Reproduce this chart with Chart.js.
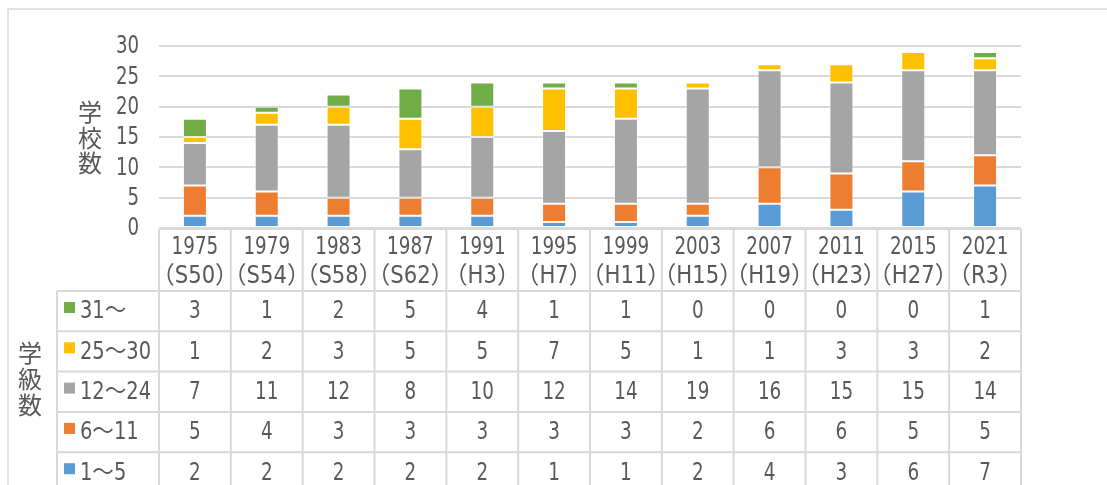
<!DOCTYPE html>
<html>
<head>
<meta charset="utf-8">
<script src="https://cdn.jsdelivr.net/npm/chart.js@4/dist/chart.umd.min.js"></script>
<style>
  html, body { margin: 0; padding: 0; background: #fff; }
  #wrap { width: 1107px; height: 485px; }
</style>
</head>
<body>
<div id="wrap"><canvas id="myChart"></canvas></div>
<script>
// data
const years = ['1975', '1979', '1983', '1987', '1991', '1995', '1999', '2003', '2007', '2011', '2015', '2021'];
const eras = ['（S50）', '（S54）', '（S58）', '（S62）', '（H3）', '（H7）', '（H11）', '（H15）', '（H19）', '（H23）', '（H27）', '（R3）'];
const seriesNames = ['1～5', '6～11', '12～24', '25～30', '31～'];
const s1to5 = [2, 2, 2, 2, 2, 1, 1, 2, 4, 3, 6, 7];
const s6to11 = [5, 4, 3, 3, 3, 3, 3, 2, 6, 6, 5, 5];
const s12to24 = [7, 11, 12, 8, 10, 12, 14, 19, 16, 15, 15, 14];
const s25to30 = [1, 2, 3, 5, 5, 7, 5, 1, 1, 3, 3, 2];
const s31 = [3, 1, 2, 5, 4, 1, 1, 0, 0, 0, 0, 1];
const yTicks = [0, 5, 10, 15, 20, 25, 30];

const colors = ['#5B9BD5', '#ED7D31', '#A5A5A5', '#FFC000', '#70AD47'];
const allSeries = [s1to5, s6to11, s12to24, s25to30, s31];
const textColor = '#595959';
const lineColor = '#d9d9d9';
const fontFam = '"DejaVu Sans Condensed", "Noto Sans CJK JP", sans-serif';

// text squeezed horizontally, the original uses a narrow font
function drawText(ctx, text, x, y, align, sx) {
    ctx.save();
    ctx.translate(x, y);
    ctx.scale(sx, 1);
    ctx.textAlign = align;
    ctx.textBaseline = 'middle';
    ctx.fillText(text, 0, 0);
    ctx.restore();
}

function drawVertical(ctx, text, x, y0, step, size) {
    ctx.font = size + 'px "Noto Sans CJK JP"';
    for (let i = 0; i < text.length; i++)
        drawText(ctx, text[i], x, y0 + i * step, 'center', 1);
}

const tablePlugin = {
    id: 'tablePlugin',
    beforeDraw(chart) {
        const ctx = chart.ctx;
        ctx.save();
        ctx.fillStyle = '#fff';
        ctx.fillRect(0, 0, chart.width, chart.height);
        ctx.strokeStyle = lineColor;
        ctx.lineWidth = 1.5;
        ctx.beginPath();
        ctx.moveTo(8, chart.height);
        ctx.lineTo(8, 9);
        ctx.lineTo(chart.width, 9);
        ctx.stroke();
        ctx.restore();
    },
    afterDraw(chart) {
        const ctx = chart.ctx;
        const xs = chart.scales.x;
        const ys = chart.scales.y;
        const area = chart.chartArea;
        const n = years.length;
        const half = (area.right - area.left) / n / 2;
        const headTop = 229, headBottom = 291, rowH = 40.3;
        const legLeft = 57;
        ctx.save();
        ctx.strokeStyle = lineColor;
        ctx.lineWidth = 2;
        ctx.beginPath();
        ctx.moveTo(area.left, headTop);
        ctx.lineTo(area.right, headTop);
        for (let r = 0; r <= 5; r++) {
            const y = headBottom + r * rowH;
            ctx.moveTo(legLeft, y);
            ctx.lineTo(area.right, y);
        }
        ctx.moveTo(legLeft, headBottom);
        ctx.lineTo(legLeft, chart.height + 5);
        for (let i = 0; i <= n; i++) {
            const x = i < n ? xs.getPixelForValue(i) - half : xs.getPixelForValue(n - 1) + half;
            ctx.moveTo(x, headTop);
            ctx.lineTo(x, chart.height + 5);
        }
        ctx.stroke();

        ctx.fillStyle = textColor;
        ctx.font = '24px ' + fontFam;
        // y tick labels
        yTicks.forEach(v => drawText(ctx, String(v), 139, ys.getPixelForValue(v) + 1, 'right', 0.84));
        // header
        for (let i = 0; i < n; i++) {
            const x = xs.getPixelForValue(i);
            drawText(ctx, years[i], x, 248, 'center', 0.85);
            drawText(ctx, eras[i], x, 277, 'center', 0.98);
        }
        // rows, top row is the last series
        for (let r = 0; r < 5; r++) {
            const k = 4 - r;
            const yTop = headBottom + r * rowH;
            const yMid = yTop + rowH / 2 + 1;
            const ds = chart.data.datasets[k];
            for (let i = 0; i < n; i++)
                drawText(ctx, String(ds.data[i]), xs.getPixelForValue(i), yMid, 'center', 0.85);
            ctx.fillStyle = colors[k];
            ctx.fillRect(64, yTop + 11, 11, 11);
            ctx.fillStyle = textColor;
            drawText(ctx, ds.label, 80, yMid, 'left', 0.9);
        }
        drawVertical(ctx, '学校数', 90, 112, 25.5, 24);
        drawVertical(ctx, '学級数', 30, 353, 26, 24);
        ctx.restore();
    }
};

const ctx = document.getElementById('myChart').getContext('2d');
const myChart = new Chart(ctx, {
    type: 'bar',
    data: {
        labels: years,
        datasets: allSeries.map((d, k) => ({
            label: seriesNames[k],
            data: d,
            backgroundColor: colors[k],
            borderColor: 'rgba(255,255,255,0.45)',
            borderWidth: 1,
            borderSkipped: false,
            barPercentage: 0.334,
            categoryPercentage: 1
        }))
    },
    options: {
        responsive: true,
        maintainAspectRatio: false,
        animation: false,
        layout: {
            padding: { left: 0, top: 46, right: 86, bottom: 257 }
        },
        plugins: {
            legend: { display: false },
            tooltip: { enabled: false }
        },
        scales: {
            x: {
                stacked: true,
                display: false
            },
            y: {
                stacked: true,
                min: 0,
                max: 30,
                afterFit: function (scale) { scale.width = 159; },
                afterBuildTicks: function (scale) {
                    scale.ticks = yTicks.map(v => ({ value: v }));
                },
                grid: { color: lineColor, lineWidth: 2, drawTicks: false },
                border: { display: false },
                ticks: { display: false, autoSkip: false }
            }
        }
    },
    plugins: [tablePlugin]
});
</script>
</body>
</html>
